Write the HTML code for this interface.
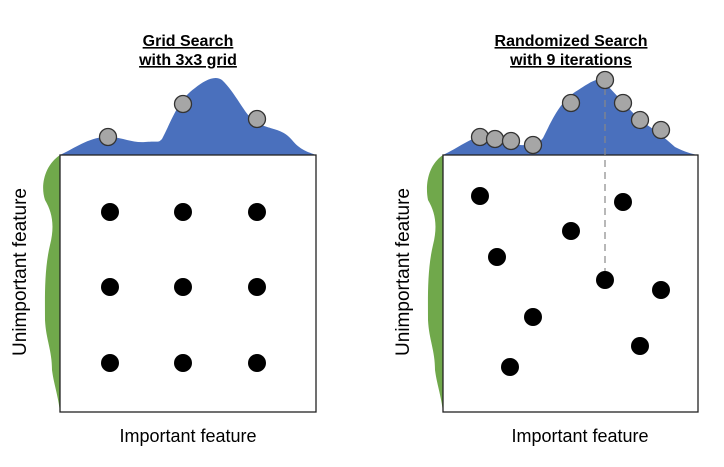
<!DOCTYPE html><html><head><style>body{margin:0;background:#fff}</style></head><body>
<svg width="724" height="462" xmlns="http://www.w3.org/2000/svg" font-family="Liberation Sans, sans-serif">
<defs><g id="g"><circle r="8.5" fill="#a6a6a6" stroke="#333" stroke-width="1.3"/></g></defs>
<text x="188" y="46" font-size="16" font-weight="bold" text-anchor="middle" text-decoration="underline">Grid Search</text>
<text x="188" y="65" font-size="16" font-weight="bold" text-anchor="middle" text-decoration="underline">with 3x3 grid</text>
<line x1="132" y1="48" x2="244" y2="48" stroke="#000" stroke-width="1.2" opacity="0"/>
<text x="571" y="46" font-size="16" font-weight="bold" text-anchor="middle" text-decoration="underline">Randomized Search</text>
<text x="571" y="65" font-size="16" font-weight="bold" text-anchor="middle" text-decoration="underline">with 9 iterations</text>
<!-- left -->
<path d="M60,155 C75,148 88,138 105,137 C120,136 130,143 145,142 C160,141 158,143 162,139 C172,120 178,100 195,88 C205,80 215,75 222,80 C235,92 245,115 255,122 C270,130 282,128 292,140 C300,150 308,152 316,155 Z" fill="#4a70bd"/>
<path d="M60,155 C45,165 40,185 45,200 C52,212 55,225 50,245 C44,270 45,300 45,320 C46,340 52,350 52,370 C54,385 58,395 60,412 Z" fill="#70a84b"/>
<rect x="60" y="155" width="256" height="257" fill="#fff" stroke="#222" stroke-width="1.3"/>
<use href="#g" x="108" y="137"/><use href="#g" x="183" y="104"/><use href="#g" x="257" y="119"/>
<g fill="#000"><circle cx="110" cy="212" r="9"/><circle cx="183" cy="212" r="9"/><circle cx="257" cy="212" r="9"/><circle cx="110" cy="287" r="9"/><circle cx="183" cy="287" r="9"/><circle cx="257" cy="287" r="9"/><circle cx="110" cy="363" r="9"/><circle cx="183" cy="363" r="9"/><circle cx="257" cy="363" r="9"/></g>
<text x="188" y="442" font-size="18" text-anchor="middle">Important feature</text>
<text transform="translate(26,272) rotate(-90)" font-size="19" text-anchor="middle">Unimportant feature</text>
<!-- right -->
<path d="M443,155 C458,148 470,138 485,135 C495,134 505,142 520,145 C535,146 538,144 543,138 C552,120 560,102 575,92 C588,84 595,78 602,80 C612,90 625,105 640,120 C655,130 665,138 675,147 C685,152 692,154 698,155 Z" fill="#4a70bd"/>
<path d="M443,155 C428,165 425,185 428,200 C435,212 438,225 433,245 C427,270 428,300 428,320 C429,340 435,350 435,370 C437,385 441,395 443,412 Z" fill="#70a84b"/>
<rect x="443" y="155" width="255" height="257" fill="#fff" stroke="#222" stroke-width="1.3"/>
<line x1="605" y1="88" x2="605" y2="280" stroke="#888" stroke-width="1.2" stroke-dasharray="7,5"/>
<use href="#g" x="480" y="137"/><use href="#g" x="495" y="139"/><use href="#g" x="511" y="141"/><use href="#g" x="533" y="145"/><use href="#g" x="571" y="103"/><use href="#g" x="605" y="80"/><use href="#g" x="623" y="103"/><use href="#g" x="640" y="120"/><use href="#g" x="661" y="130"/>
<g fill="#000"><circle cx="480" cy="196" r="9"/><circle cx="623" cy="202" r="9"/><circle cx="571" cy="231" r="9"/><circle cx="497" cy="257" r="9"/><circle cx="605" cy="280" r="9"/><circle cx="661" cy="290" r="9"/><circle cx="533" cy="317" r="9"/><circle cx="640" cy="346" r="9"/><circle cx="510" cy="367" r="9"/></g>
<text x="580" y="442" font-size="18" text-anchor="middle">Important feature</text>
<text transform="translate(409,272) rotate(-90)" font-size="19" text-anchor="middle">Unimportant feature</text>
</svg>
</body></html>
